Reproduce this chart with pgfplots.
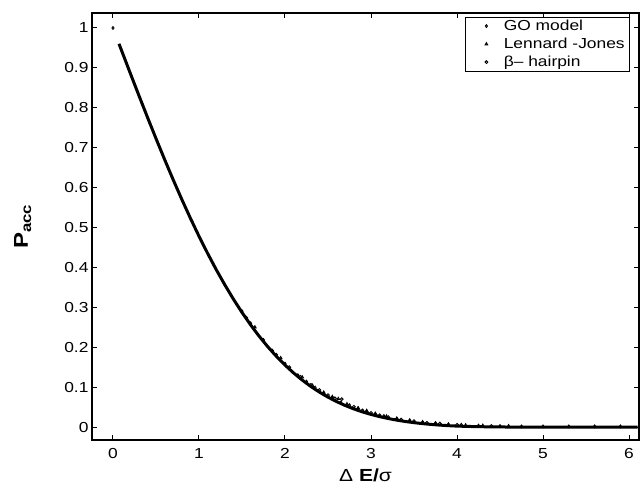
\documentclass[border=0pt]{standalone}
\usepackage{fontspec}
\setmainfont{Liberation Sans}[FakeStretch=1.2]
\usepackage{pgfplots}
\pgfplotsset{compat=1.18}
\begin{document}
\begin{tikzpicture}
\path[use as bounding box] (-92pt,-46pt) rectangle (549pt,440pt);
\begin{axis}[
  at={(0pt,0pt)}, anchor=south west,
  scale only axis, width=547pt, height=427pt,
  xmin=-0.244, xmax=6.116, ymin=-0.03, ymax=1.0375,
  xtick={0,1,2,3,4,5,6},
  ytick={0,0.1,0.2,0.3,0.4,0.5,0.6,0.7,0.8,0.9,1},
  yticklabels={0,0.1,0.2,0.3,0.4,0.5,0.6,0.7,0.8,0.9,1},
  xticklabels={0,1,2,3,4,5,6},
  tick align=inside, major tick length=5pt,
  tick style={black, line width=1pt},
  axis line style={line width=1.6pt},
  ticklabel style={font=\fontsize{14.5}{16}\selectfont},
  xticklabel style={yshift=-5pt},
  xlabel={Δ \textbf{E/}σ},
  ylabel={\textbf{P\textsubscript{acc}}},
  xlabel style={font=\fontsize{17.5}{19}\selectfont, at={(rel axis cs:0.5,0)}, anchor=base, yshift=-42pt},
  ylabel style={font=\fontsize{20}{22}\selectfont, at={(rel axis cs:0,0.5)}, anchor=base, yshift=64pt},
  legend style={at={(rel axis cs:0.9835,0.991)}, anchor=north east,
    draw=black, line width=0.5pt, font=\fontsize{14.5}{16}\selectfont,
    inner xsep=3pt, inner ysep=1pt, row sep=2pt,
    /tikz/every odd column/.append style={column sep=14pt}},
  legend cell align=left,
  legend image code/.code={\path (0pt,0pt); \draw[#1] plot coordinates {(18pt,0pt)};},
]
\addplot[black, line width=3pt, forget plot] coordinates {
(0.07,0.9605)(0.1,0.9436)(0.2,0.8875)(0.3,0.8320)(0.4,0.7773)(0.5,0.7237)
(0.6,0.6714)(0.7,0.6206)(0.8,0.5716)(0.9,0.5245)(1.0,0.4795)(1.1,0.4367)
(1.2,0.3961)(1.3,0.3580)(1.4,0.3222)(1.5,0.2888)(1.6,0.2579)(1.7,0.2293)
(1.8,0.2031)(1.9,0.1791)(2.0,0.1573)(2.1,0.1376)(2.2,0.1198)(2.3,0.1039)
(2.4,0.0897)(2.5,0.0771)(2.6,0.0660)(2.7,0.0562)(2.8,0.0477)(2.9,0.0403)
(3.0,0.0339)(3.1,0.0284)(3.2,0.0237)(3.3,0.0196)(3.4,0.0162)(3.5,0.0133)
(3.6,0.0109)(3.7,0.0089)(3.8,0.0072)(3.9,0.0058)(4.0,0.0047)(4.2,0.0035)
(4.4,0.0028)(4.6,0.0024)(4.8,0.0022)(5.0,0.0021)(5.5,0.0020)(6.0,0.0020)(6.1,0.0020)
};
\addplot[black, only marks, mark=diamond, mark size=1.4pt, line width=0.9pt] coordinates {
(0.0,1.0)(1.5,0.292)(1.6,0.262)(1.75,0.220)(1.9,0.183)(2.0,0.161)(2.15,0.132)(2.25,0.116)
(2.35,0.101)(2.45,0.087)(2.55,0.076)(2.65,0.064)(2.75,0.057)(2.85,0.049)
(2.95,0.042)(3.05,0.035)(3.15,0.030)(3.3,0.023)(3.45,0.019)(3.6,0.014)(3.75,0.012)
(3.9,0.009)(4.05,0.008)(4.25,0.006)(4.5,0.005)(4.75,0.004)(5.0,0.004)(5.3,0.004)(5.6,0.004)(5.9,0.004)
};
\addlegendentry{GO model}
\addplot[black, only marks, mark=triangle, mark size=1.5pt, line width=0.9pt] coordinates {
(1.65,0.252)(1.95,0.175)(2.2,0.127)(2.32,0.106)(2.45,0.089)(2.55,0.078)(2.62,0.073)(2.72,0.060)
(2.85,0.050)(2.95,0.043)(3.05,0.036)(3.18,0.029)(3.3,0.024)(3.45,0.019)
(3.6,0.015)(3.75,0.012)(3.9,0.009)(4.1,0.007)(4.3,0.006)(4.6,0.005)
};
\addlegendentry{Lennard -Jones}
\addplot[black, only marks, mark=o, mark size=1.4pt, line width=0.9pt] coordinates {
(1.55,0.276)(1.85,0.194)(2.05,0.152)(2.18,0.128)(2.3,0.108)(2.4,0.095)(2.5,0.082)
(2.58,0.074)(2.66,0.072)(2.8,0.053)(2.9,0.044)(3.0,0.038)(3.1,0.032)(3.2,0.027)
(3.35,0.021)(3.5,0.017)(3.65,0.013)(3.8,0.011)(4.0,0.008)(4.4,0.005)
};
\addlegendentry{β– hairpin}
\end{axis}
\end{tikzpicture}
\end{document}
